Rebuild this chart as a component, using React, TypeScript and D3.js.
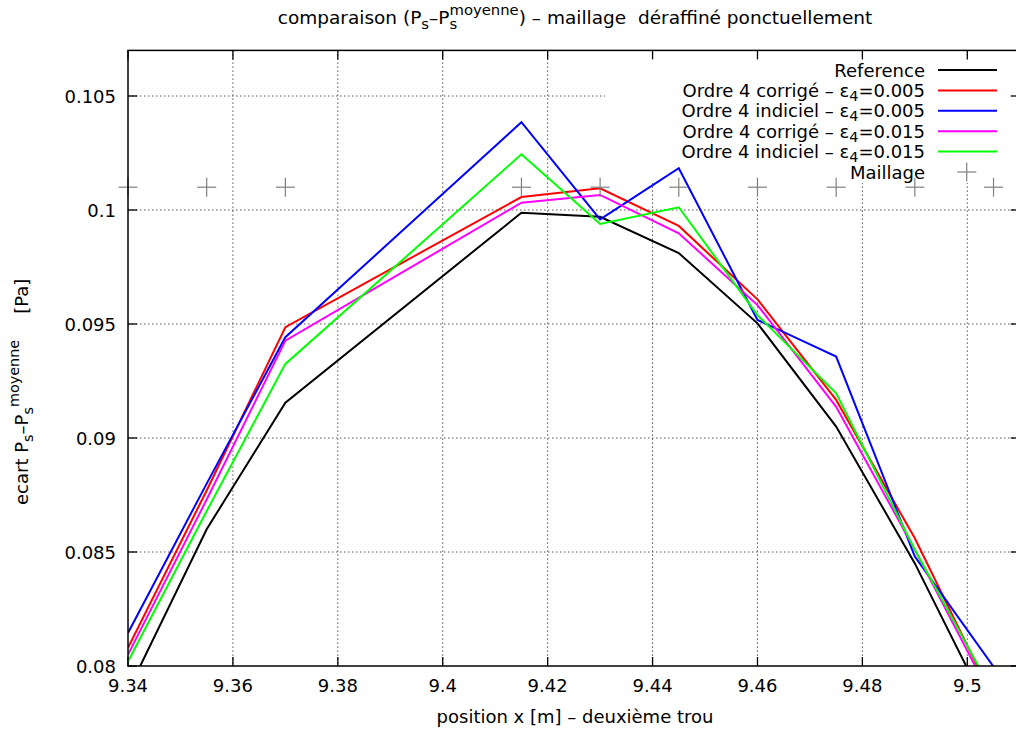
import React from "react";
import * as d3 from "d3";

const meshX = [9.34, 9.355, 9.37, 9.415, 9.43, 9.445, 9.46, 9.475, 9.49, 9.505];
const reference = [0.0789, 0.086, 0.09155, 0.09988, 0.0997, 0.09811, 0.09503, 0.0905, 0.0845, 0.0776];
const corrige005 = [0.0808, 0.0877, 0.09486, 0.10057, 0.10095, 0.0993, 0.09608, 0.09167, 0.0856, 0.07854];
const indiciel005 = [0.08145, 0.088, 0.09442, 0.10385, 0.09959, 0.10183, 0.09518, 0.09357, 0.0848, 0.07997];
const corrige015 = [0.0805, 0.0873, 0.09427, 0.10032, 0.10066, 0.09898, 0.09583, 0.09137, 0.0851, 0.07845];
const indiciel015 = [0.0802, 0.0868, 0.09325, 0.10244, 0.09939, 0.10012, 0.09539, 0.09196, 0.0851, 0.07878];
const maillageY = 0.101;

const xTicks = [9.34, 9.36, 9.38, 9.4, 9.42, 9.44, 9.46, 9.48, 9.5];
const xTickLabels = ["9.34", "9.36", "9.38", "9.4", "9.42", "9.44", "9.46", "9.48", "9.5"];
const yTicks = [0.08, 0.085, 0.09, 0.095, 0.1, 0.105];
const yTickLabels = ["0.08", "0.085", "0.09", "0.095", "0.1", "0.105"];

const seriesNames = [
  "Reference",
  "Ordre 4 corrigé – ε|0.005",
  "Ordre 4 indiciel – ε|0.005",
  "Ordre 4 corrigé – ε|0.015",
  "Ordre 4 indiciel – ε|0.015",
];
const seriesData = [reference, corrige005, indiciel005, corrige015, indiciel015];
const seriesColors = ["#000000", "#ff0000", "#0000ff", "#ff00ff", "#00ff00"];

const FONT = "'DejaVu Sans', sans-serif";
const FS = 18;
const SUB = 14.4;

export default function App() {
  const left = 128, top = 50.4, bottom = 666;
  const x = d3.scaleLinear().domain([9.34, 9.51]).range([left, 128 + (967.3 - 128) * 0.17 / 0.16]);
  const y = d3.scaleLinear().domain([0.08, 0.107]).range([bottom, top]);
  const right = x(9.51);
  const line = d3.line<number>().x((_, i) => x(meshX[i])).y((d) => y(d));

  const legendRowY = (i: number) => 70 + i * 20.4;
  const legendTextX = 925;
  const cross = (cx: number, cy: number, key: string) => (
    <g key={key} stroke="#808080" strokeWidth={1.2}>
      <line x1={cx - 9.5} x2={cx + 9.5} y1={cy} y2={cy} />
      <line x1={cx} x2={cx} y1={cy - 9.5} y2={cy + 9.5} />
    </g>
  );

  return (
    <svg width={1016} height={730} style={{ position: "absolute", left: 0, top: 0, background: "#fff" }} fontFamily={FONT}>
      <defs>
        <clipPath id="plotclip">
          <rect x={left} y={top} width={right - left} height={bottom - top} />
        </clipPath>
      </defs>
      <rect x={0} y={0} width={1016} height={730} fill="#fff" />
      {/* grid */}
      <g stroke="#555" strokeWidth={1} strokeDasharray="1.5,2.5">
        {xTicks.slice(1).map((t) => (
          <line key={"gx" + t} x1={x(t)} x2={x(t)} y1={top} y2={bottom} />
        ))}
        {yTicks.slice(1).map((t) => (
          <line key={"gy" + t} x1={left} x2={right} y1={y(t)} y2={y(t)} />
        ))}
      </g>
      {/* opaque key box */}
      <rect x={605} y={57} width={420} height={126} fill="#fff" />
      {/* ticks */}
      <g stroke="#000" strokeWidth={1.3}>
        {xTicks.map((t) => (
          <g key={"tx" + t}>
            <line x1={x(t)} x2={x(t)} y1={bottom} y2={bottom - 9} />
            <line x1={x(t)} x2={x(t)} y1={top} y2={top + 9} />
          </g>
        ))}
        {yTicks.map((t) => (
          <g key={"ty" + t}>
            <line x1={left} x2={left + 9} y1={y(t)} y2={y(t)} />
            <line x1={right} x2={right - 9} y1={y(t)} y2={y(t)} />
          </g>
        ))}
      </g>
      {/* data */}
      <g clipPath="url(#plotclip)" fill="none" strokeWidth={2} strokeLinejoin="miter">
        {seriesData.map((s, i) => (
          <path key={"s" + i} d={line(s) || ""} stroke={seriesColors[i]} />
        ))}
      </g>
      {/* mesh */}
      <g>{meshX.map((m, i) => cross(x(m), y(maillageY), "m" + i))}</g>
      {/* border */}
      <rect x={left} y={top} width={right - left} height={bottom - top} fill="none" stroke="#000" strokeWidth={1.5} />
      {/* tick labels */}
      <g fontSize={FS} fill="#000">
        {xTicks.map((t, i) => (
          <text key={"lx" + t} x={x(t)} y={692} textAnchor="middle">{xTickLabels[i]}</text>
        ))}
        {yTicks.map((t, i) => (
          <text key={"ly" + t} x={116} y={y(t) + 6.5} textAnchor="end">{yTickLabels[i]}</text>
        ))}
      </g>
      {/* legend */}
      <g fontSize={FS} fill="#000">
        {seriesNames.map((n, i) => {
          const parts = n.split("|");
          const cy = legendRowY(i);
          return (
            <g key={"lg" + i}>
              <text x={legendTextX} y={cy + 6.5} textAnchor="end">
                {parts[0]}
                {parts.length > 1 && (
                  <>
                    <tspan fontSize={SUB} dy={4}>4</tspan>
                    <tspan dy={-4}>={parts[1]}</tspan>
                  </>
                )}
              </text>
              <line x1={938} x2={997} y1={cy} y2={cy} stroke={seriesColors[i]} strokeWidth={2} />
            </g>
          );
        })}
        <text x={legendTextX} y={legendRowY(5) + 6.5} textAnchor="end">Maillage</text>
        {cross(966.7, legendRowY(5), "lgm")}
      </g>
      {/* title */}
      <text x={575} y={24} fontSize={18.5} textAnchor="middle" fill="#000" style={{ whiteSpace: "pre" }}>
        comparaison (P
        <tspan fontSize={14.8} dy={5}>s</tspan>
        <tspan dy={-5}>–P</tspan>
        <tspan fontSize={14.8} dy={5}>s</tspan>
        <tspan fontSize={14.8} dx={-7.7} dy={-14}>moyenne</tspan>
        <tspan dy={9}>) – maillage  déraffiné ponctuellement</tspan>
      </text>
      {/* x label */}
      <text x={575} y={723} fontSize={FS} textAnchor="middle" fill="#000">position x [m] – deuxième trou</text>
      {/* y label */}
      <text transform="translate(28,505) rotate(-90)" x={0} y={0} fontSize={FS} textAnchor="start" fill="#000" style={{ whiteSpace: "pre" }}>
        ecart P
        <tspan fontSize={SUB} dy={5}>s</tspan>
        <tspan dy={-5}>–P</tspan>
        <tspan fontSize={SUB} dy={5}>s</tspan>
        <tspan fontSize={SUB} dy={-14}>moyenne</tspan>
        <tspan dx={26} dy={9}>[Pa]</tspan>
      </text>
    </svg>
  );
}
